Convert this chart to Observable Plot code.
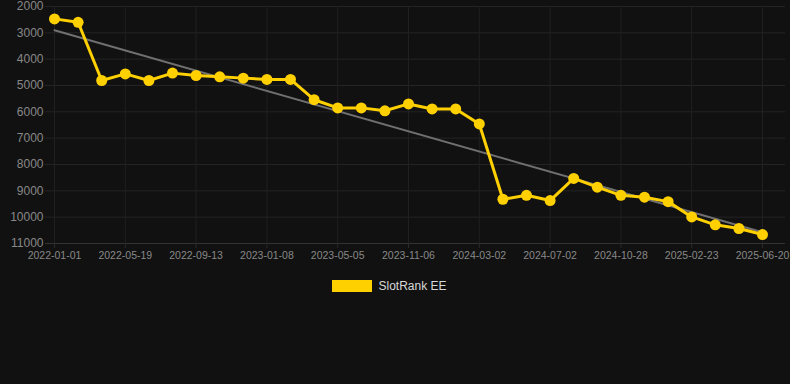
<!DOCTYPE html>
<html>
<head>
<meta charset="utf-8">
<script src="https://cdn.jsdelivr.net/npm/d3@7"></script>
<script src="https://cdn.jsdelivr.net/npm/@observablehq/plot@0.6"></script>
<style>
  html, body { margin: 0; padding: 0; background: #111111; }
  #chart { width: 790px; height: 384px; background: #111111; }
  .legend { display: flex; align-items: center; justify-content: center; margin-top: 9px; padding-right: 11px;
    font: 12px "Liberation Sans", Arial, sans-serif; color: #d8d8d8; }
  .sw { width: 40px; height: 12px; background: #FFD000; margin-right: 6px; }
</style>
</head>
<body>
<div id="chart"></div>
<script>
const dates = ["2022-01-01","2022-02-16","2022-04-03","2022-05-19","2022-06-26","2022-08-05","2022-09-13",
  "2022-10-22","2022-11-30","2023-01-08","2023-02-15","2023-03-28","2023-05-05","2023-07-06","2023-09-05",
  "2023-11-06","2023-12-15","2024-01-23","2024-03-02","2024-04-12","2024-05-22","2024-07-02","2024-08-10",
  "2024-09-19","2024-10-28","2024-12-06","2025-01-14","2025-02-23","2025-04-03","2025-05-12","2025-06-20"];
const ranks = [2470,2600,4810,4560,4810,4530,4620,4670,4720,4770,4770,5540,5850,5850,5960,5700,5890,5890,6460,
  9320,9170,9370,8530,8860,9170,9240,9410,9990,10290,10430,10660];
const tickIndex = [0,3,6,9,12,15,18,21,24,27,30];
const yTicks = [2000,3000,4000,5000,6000,7000,8000,9000,10000,11000];
const seriesName = "SlotRank EE";

const data = dates.map((d, i) => ({i, date: d, rank: ranks[i]}));

const plot = Plot.plot({
  width: 790, height: 270,
  marginTop: 6, marginLeft: 45, marginRight: 5, marginBottom: 27,
  style: {background: "#111111", color: "#888888", fontFamily: "'Liberation Sans', Arial, sans-serif", fontSize: "12px"},
  x: {type: "linear", domain: [0, 30], insetLeft: 9, insetRight: 23, label: null},
  y: {domain: [2000, 11000], reverse: true, label: null},
  marks: [
    Plot.gridY(yTicks, {stroke: "#242424", strokeOpacity: 1}),
    Plot.gridX(tickIndex, {stroke: "#202020", strokeOpacity: 1}),
    Plot.ruleY([11000], {stroke: "#333333"}),
    Plot.axisY(yTicks, {tickSize: 0, tickPadding: 2, tickFormat: d => String(d), fontSize: 12, fill: "#888888"}),
    Plot.axisX(tickIndex, {tickSize: 5, tickPadding: 3, stroke: "#2a2a2a", tickFormat: i => dates[i], fontSize: 10.5, fill: "#888888"}),
    Plot.linearRegressionY(data, {x: "i", y: "rank", stroke: "#707070", strokeWidth: 2, ci: 0}),
    Plot.line(data, {x: "i", y: "rank", stroke: "#FFD000", strokeWidth: 3}),
    Plot.dot(data, {x: "i", y: "rank", fill: "#FFD000", r: 5.5})
  ]
});
const chart = document.getElementById("chart");
chart.appendChild(plot);
const legend = document.createElement("div");
legend.className = "legend";
legend.innerHTML = `<div class="sw"></div><span>${seriesName}</span>`;
chart.appendChild(legend);
</script>
</body>
</html>
